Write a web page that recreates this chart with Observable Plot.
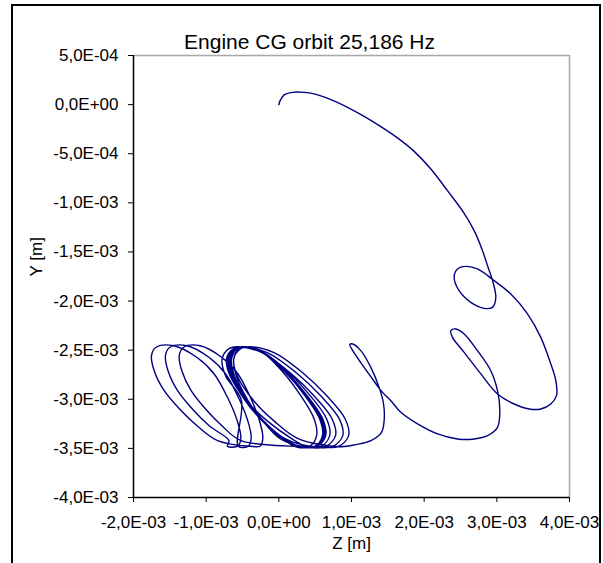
<!DOCTYPE html>
<html><head><meta charset="utf-8">
<script src="https://cdn.jsdelivr.net/npm/d3@7"></script>
<script src="https://cdn.jsdelivr.net/npm/@observablehq/plot@0.6"></script>
<style>
body{margin:0;background:#fff;}
#wrap{position:relative;width:603px;height:563px;overflow:hidden;background:#fff;}
#box{position:absolute;left:11px;top:4px;width:586px;height:620px;border:2px solid #000;}
#chart{position:absolute;left:0;top:0;}
</style></head><body>
<div id="wrap"><div id="box"></div><div id="chart"></div></div>
<script>
// values in units of 1E-3 m (mm)
const transientZ = [0,0.018,0.073,0.189,0.348,0.486,0.716,0.945,1.174,1.404,1.633,1.862,2.092,2.321,2.550,2.688,2.803,2.872,2.941,2.986,2.941,2.825,2.642,2.481,2.412,2.459,2.573,2.734,2.963,3.193,3.422,3.605,3.743,3.812,3.821,3.743,3.605,3.444,3.238,3.009,2.780,2.550,2.390,2.367,2.436,2.550,2.734,2.917,3.009,3.041,3.009,2.872,2.688,2.459,2.184,1.909,1.679,1.541,1.427,1.266,1.128,1.018,0.977,1.018,1.128,1.266,1.380,1.441,1.449,1.413,1.266,1.060,0.853];
const transientY = [0,0.041,0.099,0.125,0.125,0.109,0.051,-0.027,-0.119,-0.224,-0.339,-0.476,-0.655,-0.876,-1.107,-1.283,-1.487,-1.640,-1.792,-1.962,-2.064,-2.074,-2.013,-1.894,-1.759,-1.673,-1.647,-1.673,-1.792,-1.928,-2.131,-2.370,-2.641,-2.811,-2.963,-3.048,-3.099,-3.099,-3.048,-2.946,-2.742,-2.522,-2.370,-2.301,-2.284,-2.335,-2.505,-2.709,-2.912,-3.116,-3.286,-3.371,-3.404,-3.404,-3.353,-3.251,-3.133,-3.014,-2.930,-2.770,-2.627,-2.505,-2.444,-2.437,-2.505,-2.675,-2.879,-3.048,-3.218,-3.337,-3.422,-3.462,-3.483];

// wide loops drifting left
const driftZ = [
 0.265,-0.067,-0.351,-0.573,-0.62,-0.525,-0.399,-0.067,0.328,0.660,0.913,0.96,0.818,0.565,
 -0.519,-0.783,-0.99,-1.209,-1.335,-1.37,-1.31,-1.082,-0.783,-0.565,-0.392,-0.266,-0.22,-0.254,-0.392,
 -0.843,-1.125,-1.346,-1.58,-1.715,-1.752,-1.69,-1.445,-1.125,-0.892,-0.707,-0.572,-0.523,-0.56,-0.707,
 -0.687,-0.958,-1.171,-1.395,-1.525,-1.56,-1.50,-1.265,-0.958,-0.734,-0.557,-0.427,-0.38,-0.415,-0.557,
 -0.515,-0.733,-0.78,-0.686,-0.562,-0.234,0.156,0.484,0.733,0.78,0.64,0.39];
const driftY = [
 -3.40,-3.22,-3.01,-2.76,-2.59,-2.485,-2.465,-2.525,-2.73,-2.965,-3.20,-3.37,-3.483,-3.483,
 -3.42,-3.27,-3.115,-2.91,-2.71,-2.555,-2.47,-2.455,-2.575,-2.74,-2.98,-3.22,-3.39,-3.475,-3.478,
 -3.42,-3.27,-3.115,-2.91,-2.71,-2.555,-2.47,-2.455,-2.575,-2.74,-2.98,-3.22,-3.39,-3.475,-3.478,
 -3.42,-3.27,-3.115,-2.91,-2.71,-2.555,-2.47,-2.455,-2.575,-2.74,-2.98,-3.22,-3.39,-3.475,-3.478,
 -3.01,-2.76,-2.59,-2.485,-2.465,-2.525,-2.73,-2.965,-3.20,-3.37,-3.483,-3.483];

// settling orbit loops
const orbitZ = [
 0.176,-0.16,-0.448,-0.672,-0.72,-0.624,-0.496,-0.16,0.24,0.576,0.832,0.88,0.736,0.48,
 0.084,-0.21,-0.462,-0.658,-0.70,-0.616,-0.504,-0.21,0.14,0.434,0.658,0.70,0.574,0.35,
 0.018,-0.221,-0.426,-0.586,-0.62,-0.552,-0.46,-0.221,0.064,0.303,0.486,0.52,0.417,0.235,
 0.049,-0.228,-0.466,-0.65,-0.69,-0.611,-0.505,-0.228,0.102,0.379,0.59,0.63,0.511,0.30,
 0.052,-0.218,-0.451,-0.631,-0.67,-0.593,-0.489,-0.218,0.104,0.375,0.581,0.62,0.504,0.298,
 0.046,-0.219,-0.446,-0.622,-0.66,-0.584,-0.484,-0.219,0.096,0.361,0.562,0.60,0.487,0.285,
 0.042,-0.228,-0.461,-0.641,-0.68,-0.603,-0.499,-0.228,0.094,0.365,0.571,0.61,0.494,0.288,
 0.057,-0.213,-0.446,-0.626,-0.665,-0.588,-0.484,-0.213,0.109,0.38,0.586,0.625,0.509,0.303,
 0.047,-0.223,-0.456,-0.636,-0.675,-0.598,-0.494,-0.223,0.099,0.37,0.576,0.615,0.499,0.293,
 0.056,-0.209,-0.436,-0.612,-0.65,-0.574,-0.474,-0.209,0.106,0.371,0.572,0.61,0.497,0.295,
 0.059,-0.218,-0.456,-0.64,-0.68,-0.601,-0.495,-0.218,0.112,0.389,0.60,0.64,0.521,0.31,
 0.062,-0.21,-0.445,-0.628,-0.668,-0.59,-0.486,-0.21,0.115,0.392,0.605,0.645,0.526,0.315];
const orbitY = [
 -3.40,-3.22,-3.01,-2.76,-2.59,-2.485,-2.465,-2.525,-2.73,-2.965,-3.20,-3.37,-3.483,-3.483,
 -3.40,-3.22,-3.01,-2.76,-2.59,-2.485,-2.465,-2.525,-2.73,-2.965,-3.20,-3.37,-3.483,-3.483,
 -3.40,-3.22,-3.01,-2.76,-2.59,-2.485,-2.465,-2.525,-2.73,-2.965,-3.20,-3.37,-3.483,-3.483,
 -3.40,-3.22,-3.01,-2.76,-2.59,-2.485,-2.465,-2.525,-2.73,-2.965,-3.20,-3.37,-3.483,-3.483,
 -3.40,-3.22,-3.01,-2.76,-2.59,-2.485,-2.465,-2.525,-2.73,-2.965,-3.20,-3.37,-3.483,-3.483,
 -3.40,-3.22,-3.01,-2.76,-2.59,-2.485,-2.465,-2.525,-2.73,-2.965,-3.20,-3.37,-3.483,-3.483,
 -3.40,-3.22,-3.01,-2.76,-2.59,-2.485,-2.465,-2.525,-2.73,-2.965,-3.20,-3.37,-3.483,-3.483,
 -3.40,-3.22,-3.01,-2.76,-2.59,-2.485,-2.465,-2.525,-2.73,-2.965,-3.20,-3.37,-3.483,-3.483,
 -3.40,-3.22,-3.01,-2.76,-2.59,-2.485,-2.465,-2.525,-2.73,-2.965,-3.20,-3.37,-3.483,-3.483,
 -3.40,-3.22,-3.01,-2.76,-2.59,-2.485,-2.465,-2.525,-2.73,-2.965,-3.20,-3.37,-3.483,-3.483,
 -3.40,-3.22,-3.01,-2.76,-2.59,-2.485,-2.465,-2.525,-2.73,-2.965,-3.20,-3.37,-3.483,-3.483,
 -3.40,-3.22,-3.01,-2.76,-2.59,-2.485,-2.465,-2.525,-2.73,-2.965,-3.20,-3.37,-3.483,-3.483];

const xTicks = [-0.002,-0.001,0,0.001,0.002,0.003,0.004];
const xTickLabels = ["-2,0E-03","-1,0E-03","0,0E+00","1,0E-03","2,0E-03","3,0E-03","4,0E-03"];
const yTicks = [0.0005,0,-0.0005,-0.001,-0.0015,-0.002,-0.0025,-0.003,-0.0035,-0.004];
const yTickLabels = ["5,0E-04","0,0E+00","-5,0E-04","-1,0E-03","-1,5E-03","-2,0E-03","-2,5E-03","-3,0E-03","-3,5E-03","-4,0E-03"];
const title = "Engine CG orbit 25,186 Hz";

const allZ = transientZ.concat(driftZ, orbitZ);
const allY = transientY.concat(driftY, orbitY);
const data = allZ.map((z, i) => ({z: z / 1000, y: allY[i] / 1000}));

const font = "'Liberation Sans', Arial, sans-serif";
const chart = Plot.plot({
  width: 603, height: 563,
  marginLeft: 133, marginRight: 34, marginTop: 55, marginBottom: 66,
  style: {fontFamily: font, fontSize: "17px", background: "transparent", color: "#000", overflow: "visible"},
  x: {domain: [-0.002, 0.004], ticks: xTicks, tickFormat: d => xTickLabels[xTicks.indexOf(d)], tickSize: 5, tickPadding: 13, label: null},
  y: {domain: [-0.004, 0.0005], ticks: yTicks, tickFormat: d => yTickLabels[yTicks.indexOf(d)], tickSize: 5, tickPadding: 10, label: null},
  marks: [
    Plot.ruleY([0.0005], {stroke: "#a8a8a8", strokeWidth: 1.5}),
    Plot.ruleX([0.004], {stroke: "#a8a8a8", strokeWidth: 1.5}),
    Plot.line(data, {x: "z", y: "y", stroke: "#000080", strokeWidth: 1.4, curve: "catmull-rom"}),
    Plot.ruleX([-0.002], {stroke: "#000", strokeWidth: 1.5}),
    Plot.ruleY([-0.004], {stroke: "#000", strokeWidth: 1.5}),
    Plot.text([title], {frameAnchor: "top", dx: -42, dy: -21, fontSize: 21, fill: "#000"}),
    Plot.text(["Y [m]"], {frameAnchor: "left", dx: -97, rotate: -90, fontSize: 17, fill: "#000"}),
    Plot.text(["Z [m]"], {frameAnchor: "bottom", dy: 51, fontSize: 17, fill: "#000"})
  ]
});
document.getElementById("chart").appendChild(chart);
</script>
</body></html>
